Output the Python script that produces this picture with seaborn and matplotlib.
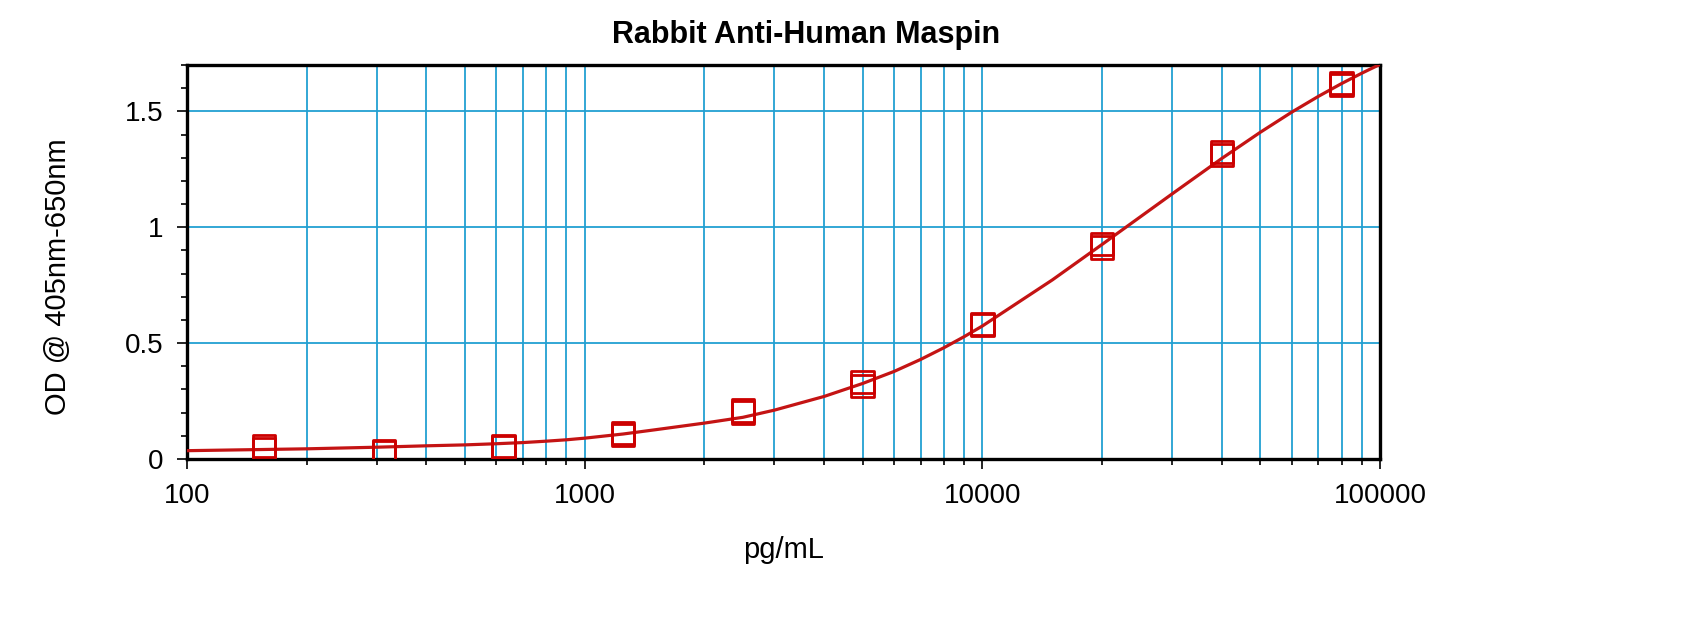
import matplotlib
matplotlib.use("Agg")
import matplotlib.pyplot as plt
import seaborn as sns
import numpy as np
import pandas as pd
from matplotlib.ticker import LogLocator, MultipleLocator, FuncFormatter, NullFormatter

# standards (pg/mL) and duplicate OD readings
conc = [156.25, 312.5, 625, 1250, 2500, 5000, 10000, 20000, 40000, 80000]
od_rep1 = [0.056, 0.035, 0.057, 0.112, 0.209, 0.332, 0.582, 0.929, 1.324, 1.623]
od_rep2 = [0.044, 0.028, 0.051, 0.104, 0.201, 0.316, 0.578, 0.913, 1.312, 1.613]

# fitted curve
fit_conc = [100, 200, 300, 400, 500, 600, 700, 800, 900, 1000, 1250, 1500,
            2000, 2500, 3000, 4000, 5000, 6000, 7000, 8000, 9000, 10000,
            15000, 20000, 30000, 40000, 50000, 60000, 70000, 80000, 90000, 100000]
fit_od = [0.036, 0.044, 0.051, 0.057, 0.061, 0.066, 0.071, 0.077, 0.083, 0.090, 0.108, 0.126,
          0.155, 0.180, 0.211, 0.270, 0.326, 0.378, 0.430, 0.480, 0.528, 0.574,
          0.773, 0.926, 1.144, 1.297, 1.410, 1.497, 1.565, 1.620, 1.665, 1.703]

red = "#CC0000"
line_red = "#C41414"
grid_blue = "#22A0D2"

sns.set_style("ticks")
plt.rcParams["font.family"] = ["Liberation Sans", "DejaVu Sans"]
plt.rcParams["text.color"] = "black"
plt.rcParams["xtick.color"] = "black"
plt.rcParams["ytick.color"] = "black"
plt.rcParams["axes.labelcolor"] = "black"

points = pd.DataFrame({
    "conc": conc + conc,
    "od": od_rep1 + od_rep2,
})
curve = pd.DataFrame({"conc": fit_conc, "od": fit_od})

fig = plt.figure(figsize=(17, 6.37), dpi=100)
ax = fig.add_axes([0.110, 0.2794, 0.7018, 0.6185])
ax.set_xscale("log")

sns.lineplot(data=curve, x="conc", y="od", ax=ax, color=line_red, linewidth=2.3,
             sort=True, zorder=3)
sns.scatterplot(data=points, x="conc", y="od", ax=ax, marker="s", s=260,
                facecolor="none", edgecolor=red, linewidth=2.0, zorder=4)

ax.set_xlim(100, 100000)
ax.set_ylim(0, 1.7)

ax.xaxis.set_major_locator(LogLocator(base=10))
ax.xaxis.set_minor_locator(LogLocator(base=10, subs=np.arange(2, 10)))
ax.xaxis.set_major_formatter(FuncFormatter(lambda v, p: f"{v:.0f}"))
ax.xaxis.set_minor_formatter(NullFormatter())
ax.yaxis.set_major_locator(MultipleLocator(0.5))
ax.yaxis.set_minor_locator(MultipleLocator(0.1))
ax.yaxis.set_major_formatter(FuncFormatter(lambda v, p: f"{v:g}"))

ax.grid(True, which="both", axis="x", color=grid_blue, linewidth=1.3)
ax.grid(True, which="major", axis="y", color=grid_blue, linewidth=1.3)
ax.set_axisbelow(True)

for side in ["left", "right", "top", "bottom"]:
    ax.spines[side].set_visible(True)
    ax.spines[side].set_linewidth(2.4)
    ax.spines[side].set_color("black")

ax.tick_params(axis="both", which="major", direction="out", length=7, width=1.2,
               labelsize=20, pad=10, color="black", labelcolor="black")
ax.tick_params(axis="both", which="minor", direction="out", length=4, width=1.2,
               color="black")

ax.set_xlabel("")
ax.set_ylabel("")

fig.text(0.474, 0.945, "Rabbit Anti-Human Maspin", ha="center", va="center",
         fontsize=22, fontweight="bold", color="black")
fig.text(0.461, 0.137, "pg/mL", ha="center", va="center", fontsize=21, color="black")
fig.text(0.034, 0.565, "OD @ 405nm-650nm", ha="center", va="center",
         rotation=90, fontsize=21, color="black")

fig.savefig("out.png", dpi=100)
